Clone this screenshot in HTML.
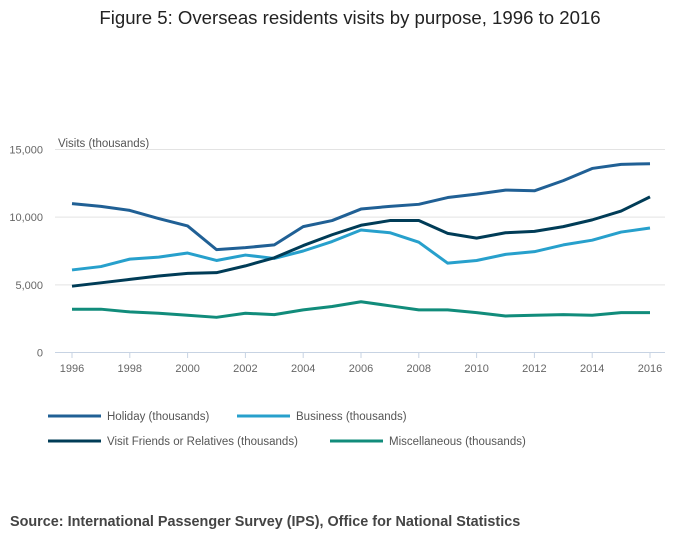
<!DOCTYPE html>
<html><head><meta charset="utf-8"><style>
body{margin:0;background:#fff;font-family:"Liberation Sans",sans-serif}
svg text{font-family:"Liberation Sans",sans-serif}
</style></head><body>
<svg width="700" height="549">
<text x="350" y="24" text-anchor="middle" font-size="18.6" fill="#222">Figure 5: Overseas residents visits by purpose, 1996 to 2016</text>
<text x="58" y="147" font-size="11.5" fill="#555">Visits (thousands)</text>
<g id="grid"></g><g id="series"></g><g id="legend"></g>
<text x="10" y="526" font-size="14.4" font-weight="bold" fill="#444">Source: International Passenger Survey (IPS), Office for National Statistics</text>
</svg>
<script>
const years=[1996,1997,1998,1999,2000,2001,2002,2003,2004,2005,2006,2007,2008,2009,2010,2011,2012,2013,2014,2015,2016];
const holiday=[11000,10800,10500,9900,9350,7600,7750,7950,9300,9750,10600,10800,10950,11450,11700,12000,11950,12700,13600,13900,13950];
const business=[6100,6350,6900,7050,7350,6800,7200,6950,7500,8200,9050,8850,8150,6600,6800,7250,7450,7950,8300,8900,9200];
const vfr=[4900,5150,5400,5650,5850,5900,6400,7000,7900,8700,9400,9750,9750,8800,8450,8850,8950,9300,9800,10450,11500];
const misc=[3200,3200,3000,2900,2750,2600,2900,2800,3150,3400,3750,3450,3150,3150,2950,2700,2750,2800,2750,2950,2950];
const yTicks=[0,5000,10000,15000];
const xTicks=[1996,1998,2000,2002,2004,2006,2008,2010,2012,2014,2016];
const seriesNames=["Holiday (thousands)","Business (thousands)","Visit Friends or Relatives (thousands)","Miscellaneous (thousands)"];
const NS="http://www.w3.org/2000/svg";
const x=v=>72+(v-1996)*(650-72)/20;
const y=v=>352.5-v*(352.5-149.5)/15000;
function mk(t,a,p){const e=document.createElementNS(NS,t);for(const k in a)e.setAttribute(k,a[k]);p.appendChild(e);return e;}
const g=document.getElementById('grid');
yTicks.forEach(t=>{
 const l=mk('line',{x1:55,x2:665,y1:y(t),y2:y(t),stroke:t===0?'#c7d3e3':'#e3e3e3','stroke-width':1},g);
 
 
 const tx=mk('text',{x:43,y:y(t)+4,'text-anchor':'end','font-size':11,fill:'#666'},g);
 tx.textContent=t.toLocaleString('en-US');
 
 
});
xTicks.forEach(t=>{
 const l=mk('line',{x1:x(t),x2:x(t),y1:352.5,y2:358,stroke:'#c7d3e3'},g);
 
 
 const tx=mk('text',{x:x(t),y:372,'text-anchor':'middle','font-size':11,fill:'#666'},g);
 tx.textContent=t;
 
 
});
const data=[holiday,business,vfr,misc];
const colors=['#206095','#27a0cc','#003c57','#118c7b'];
const keys=['holiday','business','vfr','misc'];
const sg=document.getElementById('series');
data.forEach((d,i)=>{
 const p=mk('polyline',{points:d.map((v,j)=>x(years[j])+','+y(v)).join(' '),fill:'none',stroke:colors[i],'stroke-width':3,'stroke-linejoin':'round'},sg);
 
 
});
const lg=document.getElementById('legend');
const lpos=[[48,416],[237,416],[48,441],[330,441]];
seriesNames.forEach((n,i)=>{
 const [lx,ly]=lpos[i];
 const gr=mk('g',{},lg);
 
 
 mk('line',{x1:lx,x2:lx+53,y1:ly,y2:ly,stroke:colors[i],'stroke-width':3},gr);
 const t=mk('text',{x:lx+59,y:ly+4,'font-size':11.5,fill:'#555'},gr);
 t.textContent=n;
});
</script>
</body></html>
